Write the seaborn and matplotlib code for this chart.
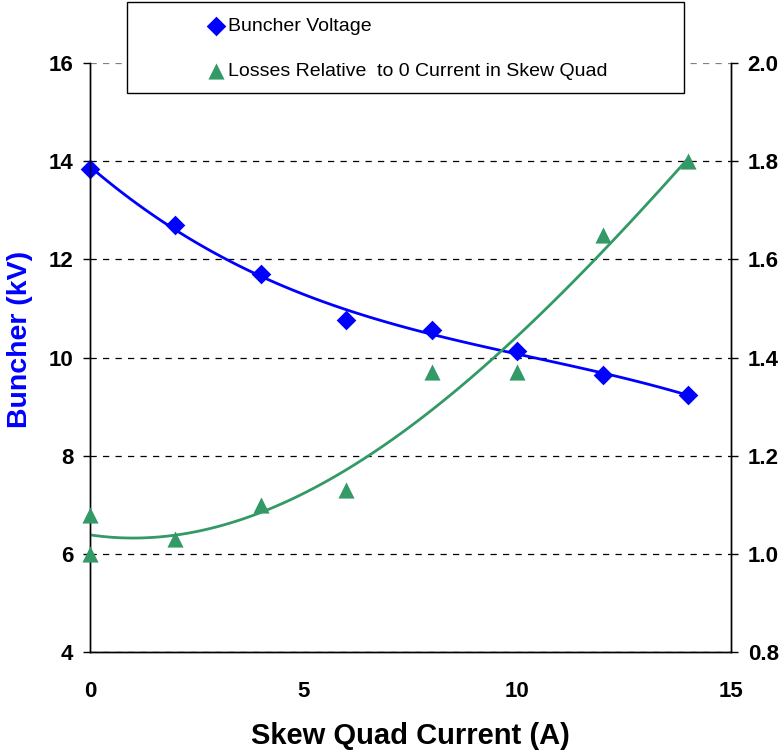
import seaborn as sns
import matplotlib.pyplot as plt
from matplotlib.patches import Rectangle
import pandas as pd

# Buncher voltage vs skew quad current
current_kv = [0, 2, 4, 6, 8, 10, 12, 14]
buncher_kv = [13.84, 12.70, 11.70, 10.76, 10.56, 10.14, 9.64, 9.23]

# Losses relative to zero current (two readings at 0 A)
current_loss = [0, 0, 2, 4, 6, 8, 10, 12, 14]
losses = [1.00, 1.08, 1.03, 1.10, 1.13, 1.37, 1.37, 1.65, 1.80]

left_ticks = [4, 6, 8, 10, 12, 14, 16]
right_ticks = [0.8, 1.0, 1.2, 1.4, 1.6, 1.8, 2.0]
x_ticks = [0, 5, 10, 15]

df_kv = pd.DataFrame({"current": current_kv, "kv": buncher_kv})
df_loss = pd.DataFrame({"current": current_loss, "loss": losses})

sns.set_style("white")
plt.rcParams["font.family"] = ["Liberation Sans", "DejaVu Sans"]
plt.rcParams["text.color"] = "black"

BLUE = "#0000FF"
GREEN = "#339966"

fig = plt.figure(figsize=(7.8, 7.52), dpi=100)
ax = fig.add_axes([90 / 780, 1 - 652 / 752, 641 / 780, 589 / 752])
ax2 = ax.twinx()

# trend lines
sns.regplot(data=df_kv, x="current", y="kv", order=3, ci=None, scatter=False,
            color=BLUE, line_kws={"lw": 2}, ax=ax)
sns.regplot(data=df_loss, x="current", y="loss", order=3, ci=None, scatter=False,
            color=GREEN, line_kws={"lw": 2}, ax=ax2)

sns.scatterplot(data=df_kv, x="current", y="kv", marker="D", s=100, color=BLUE,
                edgecolor=BLUE, linewidth=0, ax=ax, label="Buncher Voltage",
                legend=False, zorder=5, clip_on=False)
sns.scatterplot(data=df_loss, x="current", y="loss", marker="^", s=135, color=GREEN,
                edgecolor=GREEN, linewidth=0, ax=ax2,
                label="Losses Relative  to 0 Current in Skew Quad", legend=False,
                zorder=5, clip_on=False)

ax.set_xlim(0, 15)
ax.set_ylim(4, 16)
ax2.set_ylim(0.8, 2.0)
ax.set_xticks(x_ticks)
ax.set_yticks(left_ticks)
ax2.set_yticks(right_ticks)
ax2.set_yticklabels([f"{v:.1f}" for v in right_ticks])

ax.yaxis.grid(True, ls=(0, (5, 5)), color="black", lw=0.9)
ax.get_ygridlines()[-1].set_color("gray")
ax.set_axisbelow(True)

for a in (ax, ax2):
    a.spines["top"].set_visible(False)
    for s in ("left", "right", "bottom"):
        a.spines[s].set_color("black")
        a.spines[s].set_linewidth(1.0)
    a.tick_params(direction="out", length=5, width=1, colors="black",
                  labelsize=16, pad=7)
    for lab in a.get_xticklabels() + a.get_yticklabels():
        lab.set_fontweight("bold")
ax.tick_params(axis="x", pad=16)

ax.set_xlabel("Skew Quad Current (A)", fontsize=21, fontweight="bold",
              color="black", labelpad=14)
ax.set_ylabel("Buncher (kV)", fontsize=20.5, fontweight="bold", color=BLUE)
ax.yaxis.set_label_coords(-0.089, 0.531)
ax2.set_ylabel("")

# legend box drawn separately, entries placed inside it
box = Rectangle((127 / 780, 1 - 93 / 752), 557 / 780, 91 / 752,
                transform=fig.transFigure, facecolor="white", edgecolor="black",
                lw=1.0, zorder=4)
fig.add_artist(box)

h1, l1 = ax.get_legend_handles_labels()
h2, l2 = ax2.get_legend_handles_labels()
leg = fig.legend(h1 + h2, l1 + l2, loc="upper left",
                 bbox_to_anchor=(210 / 780, 1 - 17 / 752),
                 frameon=False, fontsize=14, handlelength=0.65, handletextpad=0.25,
                 labelspacing=1.45, borderpad=0, borderaxespad=0, markerscale=1.0)
leg.set_zorder(6)

fig.savefig("out.png", dpi=100)
